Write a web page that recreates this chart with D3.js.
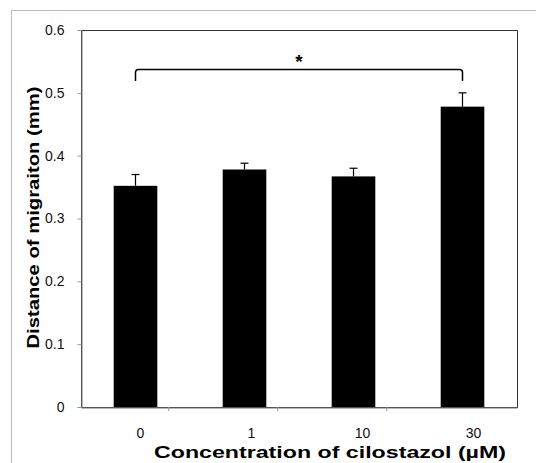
<!DOCTYPE html>
<html>
<head>
<meta charset="utf-8">
<script src="https://cdn.jsdelivr.net/npm/d3@7"></script>
<style>
  body { margin: 0; background: #fff; }
  text { font-family: Arial, "Liberation Sans", sans-serif; }
</style>
</head>
<body>
<div id="chart"></div>
<script>
const svgWidth = 536
const svgHeight = 463

// chart data
const categories = ["0", "1", "10", "30"]
const means = [0.352, 0.378, 0.367, 0.478]
const errors = [0.018, 0.010, 0.013, 0.022]
const yTicks = [0, 0.1, 0.2, 0.3, 0.4, 0.5, 0.6]

let margin = { top: 30, right: 20, bottom: 56, left: 81 }
let width = 517 - margin.left
let height = 407 - margin.top

let svg = d3.select("#chart")
  .append("svg")
  .attr("width", svgWidth)
  .attr("height", svgHeight)

// outer frame
svg.append("rect")
  .attr("x", 11.5).attr("y", 10.5)
  .attr("width", 540).attr("height", 470)
  .attr("fill", "none")
  .attr("stroke", "#bbb")
  .attr("stroke-width", 1)

let chartGroup = svg.append("g")
  .attr("transform", `translate(${margin.left}, ${margin.top})`)

let x = d3.scaleBand()
  .domain(categories)
  .range([0, width])
  .paddingInner(0.6)
  .paddingOuter(0.3)

let y = d3.scaleLinear()
  .domain([0, 0.6])
  .range([height, 0])

// plot border
chartGroup.append("rect")
  .attr("x", 0.5).attr("y", 0.5)
  .attr("width", width).attr("height", height)
  .attr("fill", "none")
  .attr("stroke", "#333")
  .attr("stroke-width", 1)

// y axis
let leftAxis = d3.axisLeft(y)
  .tickValues(yTicks)
  .tickSize(4)
  .tickFormat(d => d === 0 ? "0" : d3.format(".1f")(d))

let yAxis = chartGroup.append("g")
  .attr("transform", "translate(0.5, 0)")
  .call(leftAxis)
yAxis.select(".domain").attr("stroke", "#777")
yAxis.selectAll(".tick line").attr("stroke", "#999")
yAxis.selectAll(".tick text")
  .attr("x", -17)
  .attr("font-size", "14px")
  .attr("fill", "#111")
  .style("font-family", "Arial, 'Liberation Sans', sans-serif")

// x axis: ticks between categories
let bottomAxis = d3.axisBottom(x).tickSize(0).tickPadding(21)
let xAxis = chartGroup.append("g")
  .attr("transform", `translate(0, ${height + 0.5})`)
  .call(bottomAxis)
xAxis.select(".domain").attr("stroke", "#777")
xAxis.selectAll(".tick text")
  .attr("dx", (d, i) => 5 + i * 2)
  .attr("font-size", "14px")
  .attr("fill", "#111")
  .style("font-family", "Arial, 'Liberation Sans', sans-serif")

chartGroup.selectAll(".sep-tick")
  .data(categories.slice(1))
  .enter()
  .append("line")
  .attr("class", "sep-tick")
  .attr("x1", d => x(d) - x.step() * x.paddingInner() / 2 - x.bandwidth() / 2 + 0.5)
  .attr("x2", d => x(d) - x.step() * x.paddingInner() / 2 - x.bandwidth() / 2 + 0.5)
  .attr("y1", height)
  .attr("y2", height + 4)
  .attr("stroke", "#999")

// bars
chartGroup.selectAll(".bar")
  .data(means)
  .enter()
  .append("rect")
  .attr("class", "bar")
  .attr("x", (d, i) => x(categories[i]))
  .attr("y", d => y(d))
  .attr("width", x.bandwidth())
  .attr("height", d => height - y(d))
  .attr("fill", "#000")

// error bars (upper only)
let errG = chartGroup.selectAll(".err")
  .data(means)
  .enter()
  .append("g")
  .attr("class", "err")
  .attr("transform", (d, i) => `translate(${x(categories[i]) + x.bandwidth() / 2}, 0)`)

errG.append("line")
  .attr("x1", 0).attr("x2", 0)
  .attr("y1", d => y(d))
  .attr("y2", (d, i) => y(d + errors[i]))
  .attr("stroke", "#000")
  .attr("stroke-width", 1.2)

errG.append("line")
  .attr("x1", -4).attr("x2", 4)
  .attr("y1", (d, i) => y(d + errors[i]))
  .attr("y2", (d, i) => y(d + errors[i]))
  .attr("stroke", "#000")
  .attr("stroke-width", 1.2)

// significance bracket between 0 and 30
let bx1 = x(categories[0]) + x.bandwidth() / 2
let bx2 = x(categories[3]) + x.bandwidth() / 2
let by = y(0.537)
let byEnd = y(0.519)
let r = 3
chartGroup.append("path")
  .attr("d", `M${bx1},${byEnd} L${bx1},${by + r} Q${bx1},${by} ${bx1 + r},${by} L${bx2 - r},${by} Q${bx2},${by} ${bx2},${by + r} L${bx2},${byEnd}`)
  .attr("fill", "none")
  .attr("stroke", "#000")
  .attr("stroke-width", 1.5)

chartGroup.append("text")
  .attr("x", (bx1 + bx2) / 2)
  .attr("y", by - 2)
  .attr("text-anchor", "middle")
  .attr("font-size", "19px")
  .attr("font-weight", "bold")
  .text("*")

// axis titles
svg.append("text")
  .attr("x", 330)
  .attr("y", 458)
  .attr("text-anchor", "middle")
  .attr("font-size", "16px")
  .attr("font-weight", "bold")
  .attr("textLength", 352)
  .attr("lengthAdjust", "spacingAndGlyphs")
  .text("Concentration of cilostazol (\u00b5M)")

svg.append("text")
  .attr("transform", `translate(39, ${margin.top + height / 2 - 1}) rotate(-90)`)
  .attr("text-anchor", "middle")
  .attr("font-size", "17px")
  .attr("font-weight", "bold")
  .attr("textLength", 262)
  .attr("lengthAdjust", "spacingAndGlyphs")
  .text("Distance of migraiton (mm)")
</script>
</body>
</html>
